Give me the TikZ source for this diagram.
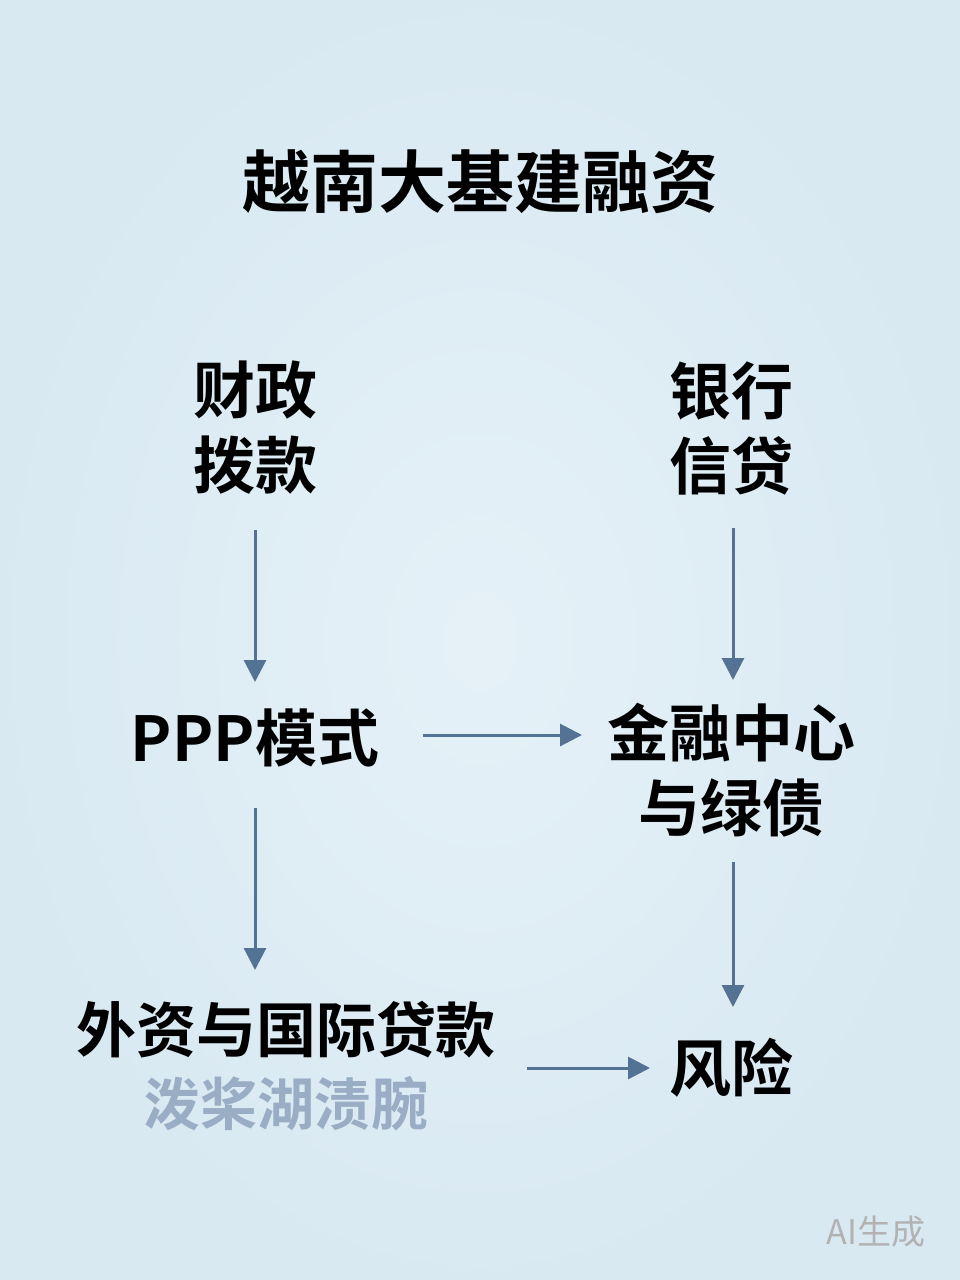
\documentclass[tikz,border=0pt]{standalone}
\usepackage{fontspec}
\setmainfont{Noto Sans CJK SC}
\newfontfamily\cjkbold{Noto Sans CJK SC Bold}
\usetikzlibrary{arrows.meta,
                positioning}
\definecolor[named]{vnback}{rgb}{0.85,0.915,0.95}
\definecolor[named]{vnbackin}{rgb}{0.90,0.945,0.97}
\definecolor[named]{vnarrow}{rgb}{0.33,0.45,0.58}
\definecolor[named]{vnfaint}{rgb}{0.60,0.68,0.77}

\begin{document}
\begin{tikzpicture}
       [x=1pt,y=-1pt,
        box/.style={text=black,align=center,inner sep=0pt,
                    font=\cjkbold\fontsize{62}{75}\selectfont},
        flow/.style={draw=vnarrow,line width=3pt,
                     -{Triangle[length=22pt,width=22pt]}}]
       % background
       \shade[inner color=vnbackin,outer color=vnback] (0,0) rectangle (960,1280);
       \useasboundingbox (0,0) rectangle (960,1280);
       % title
       \node [box,font=\cjkbold\fontsize{68}{75}\selectfont] (title) at (480,182) {越南大基建融资};
       % nodes
       \node [box] (fiscal) at (255,428) {财政\\拨款};
       \node [box] (bank) at (731,428) {银行\\信贷};
       \node [box] (ppp) at (255,738) {PPP模式};
       \node [box] (center) at (731,770) {金融中心\\与绿债};
       \node [box,font=\cjkbold\fontsize{60}{75}\selectfont] (foreign) at (286,1030) {外资与国际贷款};
       \node [box,text=vnfaint,font=\cjkbold\fontsize{57}{70}\selectfont] (blur) at (286,1104) {泼桨湖渍腕};
       \node [box] (risk) at (731,1068) {风险};
       \node [text=black!30,font=\fontsize{34}{36}\selectfont,inner sep=0pt] (mark) at (876,1232) {AI生成};
       % connectors
       \coordinate (fiscalout) at (255,530);
       \coordinate (pppin) at (255,682);
       \coordinate (bankout) at (733,528);
       \coordinate (centerin) at (733,680);
       \coordinate (pppout) at (423,735);
       \coordinate (centerleft) at (582,735);
       \coordinate (pppdown) at (255,808);
       \coordinate (foreignin) at (255,970);
       \coordinate (centerout) at (733,862);
       \coordinate (riskin) at (733,1007);
       \coordinate (foreignout) at (527,1068);
       \coordinate (riskleft) at (650,1068);
       \draw [flow] (fiscalout) -- (pppin);
       \draw [flow] (bankout) -- (centerin);
       \draw [flow] (pppout) -- (centerleft);
       \draw [flow] (pppdown) -- (foreignin);
       \draw [flow] (centerout) -- (riskin);
       \draw [flow] (foreignout) -- (riskleft);
\end{tikzpicture}
\end{document}
